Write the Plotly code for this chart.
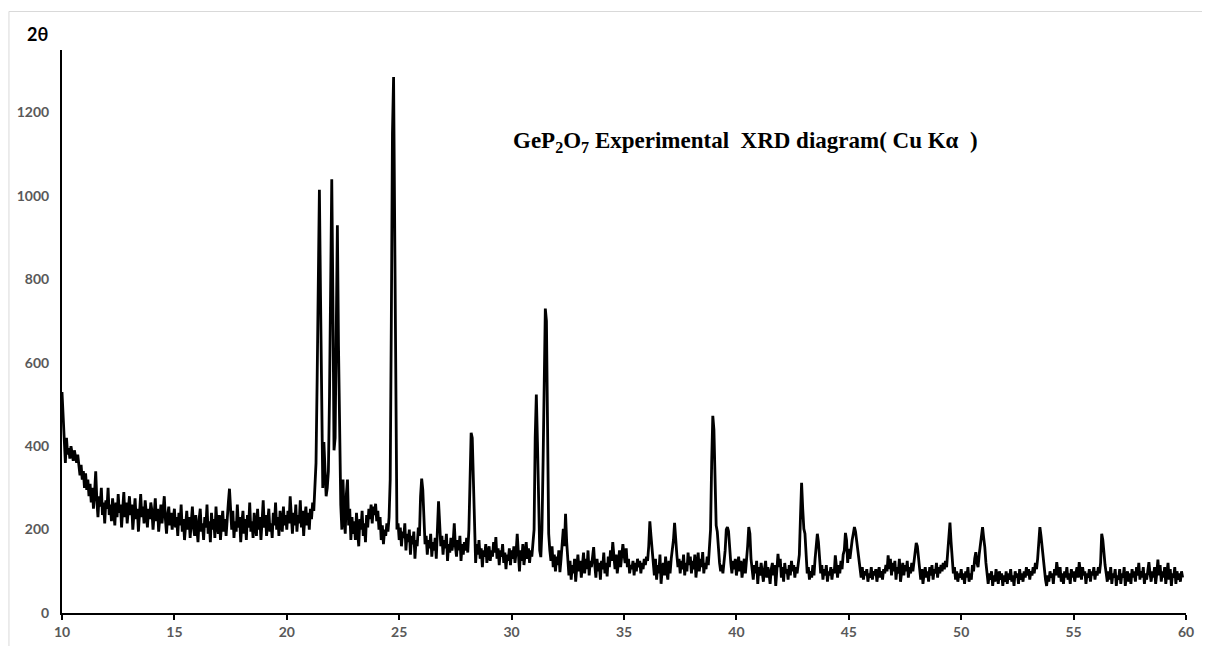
import numpy as np
import plotly.graph_objects as go

# 2-theta grid: 10.00 .. 59.85, step 0.05 deg
theta_start = 10.0
theta_step = 0.05

# Intensity (counts), one list per 5 degrees
I_10_15 = [
    530, 470, 400, 360, 420, 380, 395, 370, 400, 385, 365, 390, 375, 360, 380, 345, 330, 355, 320, 340,
    300, 335, 295, 320, 280, 310, 265, 300, 250, 290, 340, 270, 230, 280, 255, 300, 235, 265, 215, 270,
    250, 300, 235, 260, 220, 275, 245, 210, 265, 230, 285, 240, 260, 205, 250, 290, 230, 265, 215, 255,
    280, 235, 260, 200, 245, 275, 225, 250, 195, 240, 285, 230, 255, 215, 270, 240, 205, 250, 225, 265,
    245, 200, 235, 275, 220, 250, 195, 240, 260, 215, 245, 280, 225, 190, 235, 255, 210, 240, 200, 230,
]
I_15_20 = [
    250, 205, 230, 185, 240, 210, 260, 195, 225, 175, 215, 245, 200, 230, 180, 220, 255, 205, 185, 235,
    210, 170, 225, 250, 195, 215, 175, 230, 205, 260, 190, 220, 170, 240, 200, 225, 180, 255, 210, 190,
    235, 175, 215, 245, 195, 225, 185, 240, 265, 298, 230, 200, 245, 180, 220, 195, 260, 205, 230, 170,
    215, 245, 190, 225, 175, 235, 205, 265, 195, 220, 180, 240, 210, 185, 250, 200, 230, 175, 220, 270,
    205, 235, 185, 225, 250, 195, 215, 180, 240, 210, 265, 200, 230, 185, 245, 215, 195, 255, 210, 235,
]
I_20_25 = [
    200, 245, 215, 280, 225, 190, 240, 210, 260, 195, 235, 215, 270, 205, 245, 185, 230, 255, 210, 240,
    200, 250, 225, 265, 245, 300, 360, 560, 880, 1015, 760, 420, 300, 410, 350, 280, 300, 340, 520, 900,
    1040, 760, 390, 420, 700, 930, 640, 380, 260, 200, 320, 230, 190, 285, 320, 210, 250, 175, 230, 190,
    220, 175, 240, 195, 160, 225, 200, 245, 185, 215, 170, 235, 205, 250, 225, 260, 215, 255, 235, 262,
    220, 245, 200, 230, 175, 210, 165, 200, 185, 215, 195, 230, 320, 700, 1150, 1285, 900, 380, 200, 215,
]
I_25_30 = [
    175, 205, 160, 195, 180, 215, 150, 190, 170, 200, 140, 185, 165, 195, 130, 175, 160, 205, 185, 280,
    322, 295, 200, 165, 185, 140, 175, 155, 190, 135, 170, 150, 180, 130, 200, 268, 215, 160, 185, 140,
    175, 155, 190, 125, 165, 145, 180, 150, 170, 215, 160, 135, 175, 150, 185, 125, 165, 140, 170, 150,
    180, 145, 200, 330, 432, 420, 300, 170, 120, 165, 140, 175, 130, 155, 110, 150, 135, 165, 120, 145,
    160, 125, 150, 135, 170, 145, 182, 130, 155, 115, 150, 135, 165, 120, 145, 105, 140, 125, 155, 115,
]
I_30_35 = [
    150, 130, 160, 120, 145, 190, 135, 100, 150, 125, 165, 115, 140, 170, 130, 155, 120, 150, 135, 170,
    200, 420, 524, 410, 220, 150, 134, 200, 360, 600, 730, 700, 380, 190, 150, 125, 160, 110, 140, 100,
    135, 115, 150, 98, 130, 175, 202, 160, 238, 170, 120, 90, 125, 80, 115, 95, 130, 75, 110, 140,
    100, 125, 85, 120, 145, 95, 130, 105, 150, 90, 125, 110, 140, 158, 115, 85, 130, 100, 120, 80,
    125, 105, 145, 95, 120, 88, 135, 110, 150, 125, 170, 130, 105, 140, 95, 120, 150, 110, 135, 165,
]
I_35_40 = [
    140, 120, 155, 110, 130, 95, 115, 105, 125, 90, 120, 100, 130, 110, 125, 95, 120, 105, 130, 115,
    135, 125, 160, 220, 185, 150, 110, 90, 130, 80, 115, 95, 140, 70, 105, 120, 90, 135, 100, 80,
    125, 95, 130, 150, 175, 216, 170, 140, 110, 130, 95, 125, 105, 140, 90, 120, 100, 145, 115, 135,
    95, 125, 105, 140, 85, 120, 145, 100, 130, 110, 146, 95, 120, 105, 135, 115, 150, 200, 360, 473,
    440, 300, 210, 195, 140, 120, 100, 115, 95, 120, 150, 200, 206, 196, 150, 120, 95, 125, 105, 130,
]
I_40_45 = [
    90, 120, 135, 100, 125, 85, 115, 130, 95, 120, 160, 206, 190, 130, 100, 80, 115, 95, 125, 70,
    110, 90, 120, 100, 75, 105, 125, 85, 110, 95, 70, 105, 120, 90, 115, 65, 100, 142, 110, 130,
    85, 110, 75, 120, 95, 105, 80, 115, 90, 125, 100, 115, 85, 110, 95, 120, 140, 230, 312, 250,
    202, 190, 120, 95, 110, 80, 100, 85, 115, 90, 130, 165, 190, 170, 120, 95, 115, 80, 105, 90,
    115, 75, 100, 90, 110, 80, 105, 95, 138, 100, 85, 115, 95, 125, 105, 140, 150, 192, 175, 120,
]
I_45_50 = [
    154, 130, 160, 175, 190, 206, 195, 170, 154, 125, 100, 85, 110, 80, 100, 90, 105, 75, 95, 85,
    110, 80, 100, 90, 105, 75, 95, 110, 85, 100, 80, 105, 95, 115, 100, 138, 105, 130, 90, 120,
    100, 125, 80, 110, 95, 130, 75, 105, 120, 90, 115, 100, 125, 85, 110, 95, 120, 100, 125, 145,
    168, 160, 130, 100, 80, 105, 70, 95, 110, 85, 100, 75, 110, 90, 115, 80, 105, 95, 120, 85,
    110, 95, 115, 100, 120, 105, 125, 110, 140, 190, 217, 170, 120, 95, 110, 80, 100, 75, 95, 85,
]
I_50_55 = [
    105, 80, 95, 70, 100, 85, 110, 75, 95, 80, 115, 100, 130, 146, 120, 110, 140, 160, 175, 206,
    180, 158, 120, 90, 70, 95, 80, 100, 65, 90, 75, 105, 85, 70, 100, 80, 95, 65, 90, 75,
    100, 70, 95, 80, 105, 75, 90, 65, 100, 85, 95, 70, 105, 80, 95, 75, 100, 85, 110, 90,
    105, 80, 100, 90, 110, 95, 120, 105, 130, 170, 206, 185, 158, 120, 95, 80, 65, 90, 75, 100,
    85, 95, 70, 105, 90, 122, 100, 85, 110, 75, 95, 70, 100, 85, 110, 80, 95, 70, 105, 85,
]
I_55_60 = [
    100, 75, 95, 110, 85, 122, 100, 80, 110, 90, 100, 70, 95, 85, 105, 75, 100, 90, 110, 80,
    100, 90, 110, 95, 120, 190, 175, 134, 115, 95, 75, 100, 80, 110, 70, 95, 85, 105, 65, 90,
    80, 105, 70, 95, 85, 110, 65, 90, 100, 75, 95, 70, 105, 85, 100, 75, 110, 90, 120, 80,
    100, 85, 110, 70, 95, 80, 105, 122, 95, 75, 100, 85, 110, 70, 95, 128, 90, 115, 75, 100,
    85, 110, 70, 95, 120, 80, 105, 65, 95, 85, 110, 70, 100, 80, 95, 75, 100, 85,
]

x_tick_vals = [10, 15, 20, 25, 30, 35, 40, 45, 50, 55, 60]
y_tick_vals = [0, 200, 400, 600, 800, 1000, 1200]

intensity = (I_10_15 + I_15_20 + I_20_25 + I_25_30 + I_30_35 +
             I_35_40 + I_40_45 + I_45_50 + I_50_55 + I_55_60)
theta = np.round(theta_start + theta_step * np.arange(len(intensity)), 2)

fig = go.Figure()
fig.add_trace(go.Scatter(
    x=theta, y=intensity, mode="lines",
    line=dict(color="black", width=2.8),
    showlegend=False, hoverinfo="x+y",
))

tick_font = dict(family="Lato", size=14, color="#595959", weight="bold")

fig.update_layout(
    width=1202, height=638,
    margin=dict(l=54, r=24, t=42, b=33),
    paper_bgcolor="white", plot_bgcolor="white",
    xaxis=dict(
        range=[10, 60], tickvals=x_tick_vals, showgrid=False, zeroline=False,
        showline=True, linecolor="black", linewidth=2, automargin=False,
        ticks="outside", ticklen=5, tickwidth=2, tickcolor="black",
        tickfont=tick_font,
    ),
    yaxis=dict(
        range=[0, 1350], tickvals=y_tick_vals, showgrid=False, zeroline=False,
        showline=True, linecolor="black", linewidth=2, automargin=False,
        ticks="outside", ticklen=8, tickcolor="rgba(0,0,0,0)",
        tickfont=tick_font,
    ),
    annotations=[
        dict(
            text="GeP<sub>2</sub>O<sub>7</sub> Experimental\u00a0 XRD diagram( Cu K\u03b1\u00a0 )",
            xref="paper", yref="paper", x=0.6077, y=0.837,
            xanchor="center", yanchor="middle", showarrow=False,
            font=dict(family="Liberation Serif", size=23, color="black", weight="bold"),
        ),
        dict(
            text="2\u03b8", xref="paper", yref="paper", x=-0.033, y=1.0276,
            xanchor="left", yanchor="middle", showarrow=False,
            font=dict(family="Lato", size=18, color="black", weight="bold"),
        ),
    ],
    shapes=[
        dict(type="rect", xref="paper", yref="paper",
             x0=-0.0472, x1=1.03, y0=-0.08, y1=1.0684,
             line=dict(color="#d9d9d9", width=1), fillcolor="rgba(0,0,0,0)", layer="below"),
    ],
)

fig.write_html("out.html")
